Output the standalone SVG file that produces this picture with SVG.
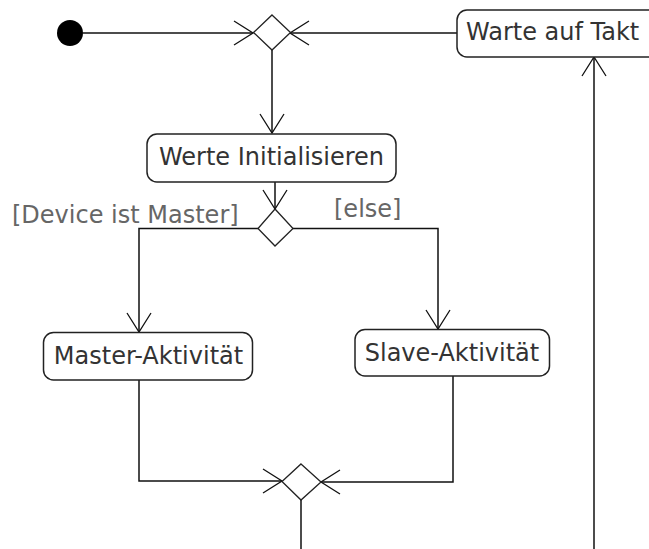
<svg xmlns="http://www.w3.org/2000/svg" width="649" height="549" viewBox="0 0 649 549">
  <style>
    .action { fill: #ffffff; stroke: #222222; stroke-width: 1.5; }
    .decision { fill: #ffffff; stroke: #222222; stroke-width: 1.3; }
    .label { font-family: "DejaVu Sans", sans-serif; font-size: 24px; fill: #333333; }
    .guard { font-family: "DejaVu Sans", sans-serif; font-size: 24px; fill: #666666; }
    .flow { fill: none; stroke: #111111; stroke-width: 1.5; }
  </style>
  <defs>
    <marker id="open-arrow" markerUnits="userSpaceOnUse" markerWidth="24" markerHeight="30" viewBox="-22 -15 24 30" refX="0" refY="0" orient="auto">
      <path d="M -19 -12 L 0 0 L -19 12" fill="none" stroke="#111111" stroke-width="1.3"/>
    </marker>
  </defs>

  <rect width="649" height="549" fill="#ffffff"/>

  <!-- control flows -->
  <g id="connectors">
    <path class="flow" d="M 83 33 H 253" marker-end="url(#open-arrow)"/>
    <path class="flow" d="M 457 33 H 290" marker-end="url(#open-arrow)"/>
    <path class="flow" d="M 272 50 V 133" marker-end="url(#open-arrow)"/>
    <path class="flow" d="M 275 182 V 209" marker-end="url(#open-arrow)"/>
    <path class="flow" d="M 258 228.5 H 139 V 332" marker-end="url(#open-arrow)"/>
    <path class="flow" d="M 293 228.5 H 438 V 329" marker-end="url(#open-arrow)"/>
    <path class="flow" d="M 139 380 V 481 H 282" marker-end="url(#open-arrow)"/>
    <path class="flow" d="M 453 376 V 482 H 321" marker-end="url(#open-arrow)"/>
    <path class="flow" d="M 301 500 V 549"/>
    <path class="flow" d="M 594 549 V 57" marker-end="url(#open-arrow)"/>
  </g>

  <!-- initial node -->
  <g id="start">
    <circle cx="70" cy="33" r="13" fill="#000000"/>
  </g>

  <!-- merge before waiting loop -->
  <g id="merge-top">
    <polygon class="decision" points="272,15 290.5,32.5 272,50 253.5,32.5"/>
  </g>

  <g id="warte-auf-takt">
    <rect class="action" x="457" y="10" width="210" height="47" rx="10" ry="10"/>
    <text class="label" x="466" y="40">Warte auf Takt</text>
  </g>

  <g id="werte-initialisieren">
    <rect class="action" x="147" y="134" width="249" height="48" rx="10" ry="10"/>
    <text class="label" x="271.5" y="164.5" text-anchor="middle">Werte Initialisieren</text>
  </g>

  <!-- branch: master or slave -->
  <g id="decision-role">
    <polygon class="decision" points="275,209 293,228.5 275,246 258,228.5"/>
    <text class="guard" x="12" y="223">[Device ist Master]</text>
    <text class="guard" x="334" y="217">[else]</text>
  </g>

  <g id="master-aktivitaet">
    <rect class="action" x="43.5" y="332.5" width="209" height="47.5" rx="10" ry="10"/>
    <text class="label" x="148.5" y="364" text-anchor="middle">Master-Aktivität</text>
  </g>

  <g id="slave-aktivitaet">
    <rect class="action" x="355" y="329.5" width="194.5" height="46.5" rx="10" ry="10"/>
    <text class="label" x="452" y="361" text-anchor="middle">Slave-Aktivität</text>
  </g>

  <!-- merge after role activities -->
  <g id="merge-role">
    <polygon class="decision" points="301,464 321,482 301,500 282,481.5"/>
  </g>
</svg>
